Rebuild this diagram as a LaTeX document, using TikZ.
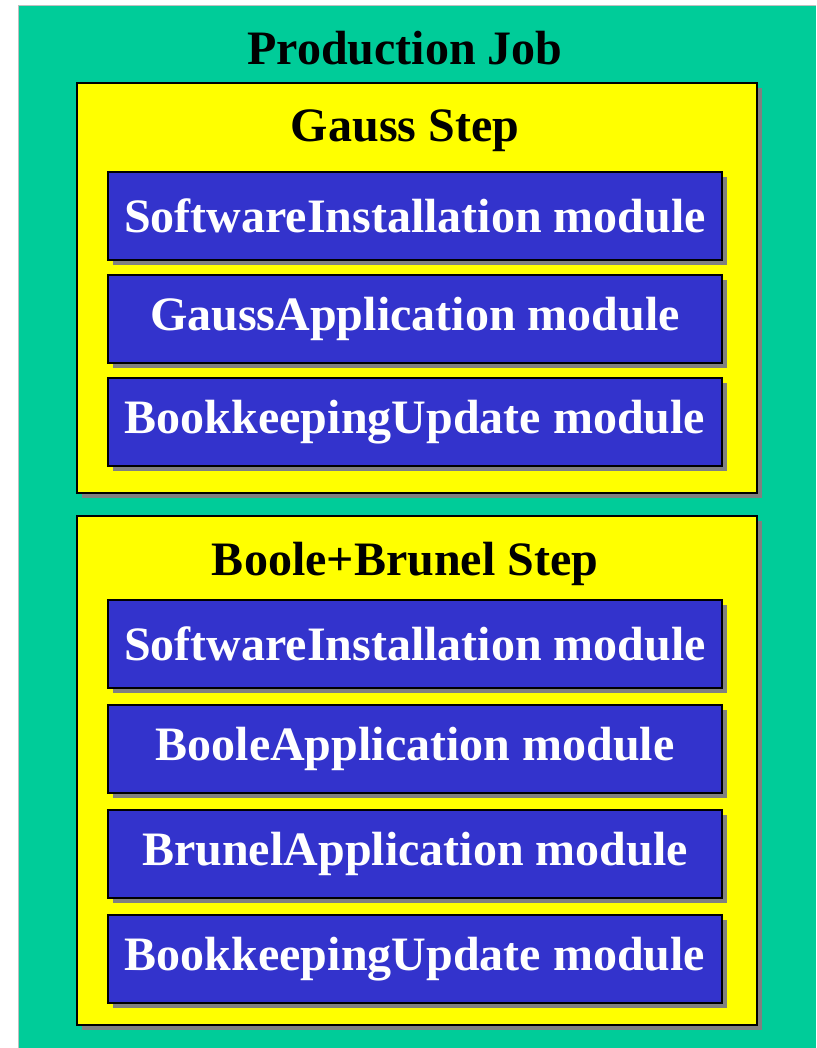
\documentclass[tikz,border=0pt]{standalone}
\usepackage{fontspec}
\setmainfont{Liberation Serif}
\usetikzlibrary{shadows}
\definecolor{jobgreen}{HTML}{00CC99}
\definecolor{stepyellow}{HTML}{FFFF00}
\definecolor{modblue}{HTML}{3333CC}
\definecolor{shadowgray}{HTML}{808080}
\begin{document}
\begin{tikzpicture}[x=1pt,y=-1pt,
  stepbox/.style={draw=black,line width=1.6pt,fill=stepyellow,minimum width=680pt,
    drop shadow={shadow xshift=5pt,shadow yshift=-5pt,fill=shadowgray,opacity=1}},
  modbox/.style={draw=black,line width=1.4pt,fill=modblue,text=white,inner sep=0pt,
    minimum width=614pt,minimum height=88pt,font=\fontsize{48}{56}\selectfont\bfseries,
    drop shadow={shadow xshift=5pt,shadow yshift=-5pt,fill=shadowgray,opacity=1}},
  title/.style={inner sep=0pt,font=\fontsize{48}{56}\selectfont\bfseries}]
\useasboundingbox (0,0) rectangle (816,1048);
% the job
\fill[jobgreen] (19,6) rectangle (816,1048);
\draw[lightgray,line width=1.5pt] (18.5,1048) -- (18.5,5.5) -- (816,5.5);
\node[title] (job) at (405,48) {Production Job};
% Gauss step
\node[stepbox,minimum height=410pt] (gauss) at (417,288) {};
\node[title] (gausstitle) at (405,131) {Gauss Step};
\node[modbox] (gaussinst) at (415,216) {SoftwareInstallation module};
\node[modbox] (gaussapp) at (415,319) {GaussApplication module};
\node[modbox] (gaussbk) at (415,422) {BookkeepingUpdate module};
% Boole+Brunel step
\node[stepbox,minimum height=509pt] (boole) at (417,770.5) {};
\node[title] (booletitle) at (405,564) {Boole+Brunel Step};
\node[modbox] (booleinst) at (415,644) {SoftwareInstallation module};
\node[modbox] (booleapp) at (415,749) {BooleApplication module};
\node[modbox] (brunelapp) at (415,854) {BrunelApplication module};
\node[modbox] (boolebk) at (415,959) {BookkeepingUpdate module};
\end{tikzpicture}
\end{document}
